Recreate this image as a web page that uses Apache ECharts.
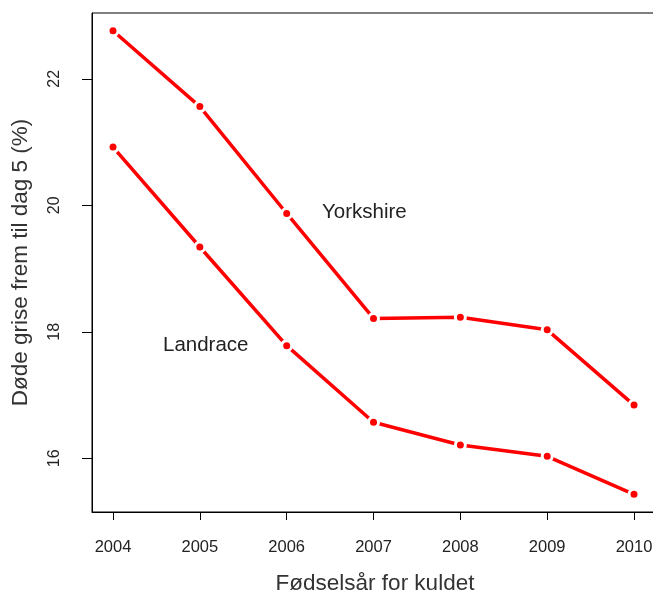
<!DOCTYPE html>
<html>
<head>
<meta charset="utf-8">
<script src="https://cdn.jsdelivr.net/npm/echarts@6/dist/echarts.min.js"></script>
<style>
  html, body { margin: 0; padding: 0; background: #fff; }
  #chart { width: 653px; height: 596px; }
</style>
</head>
<body>
<div id="chart"></div>
<script>
// data
var years = [2004, 2005, 2006, 2007, 2008, 2009, 2010];
var yorkshire = [22.76, 21.56, 19.87, 18.21, 18.23, 18.03, 16.84];
var landrace = [20.92, 19.34, 17.78, 16.57, 16.21, 16.03, 15.43];
var yTicks = [16, 18, 20, 22];

function pairs(vals) {
  return years.map(function (y, i) { return [y, vals[i]]; });
}

var chart = echarts.init(document.getElementById('chart'));
var font = 'Liberation Sans, Arial, sans-serif';

function lineSeries(name, vals) {
  return {
    name: name,
    type: 'line',
    data: pairs(vals),
    symbol: 'circle',
    symbolSize: 10,
    showAllSymbol: true,
    lineStyle: { color: '#ff0000', width: 3.5 },
    itemStyle: { color: '#ff0000', borderColor: '#ffffff', borderWidth: 3 },
    z: 3
  };
}

chart.setOption({
  animation: false,
  grid: {
    left: 92, right: -5, top: 13, bottom: 84,
    outerBoundsMode: 'none',
    containLabel: false,
    show: true, borderColor: '#000', borderWidth: 1
  },
  xAxis: {
    type: 'value',
    min: 2003.758, max: 2010.276,
    splitLine: { show: false },
    axisLine: { show: true, lineStyle: { color: '#000' } },
    axisTick: { show: true, length: 8, customValues: years, lineStyle: { color: '#000' } },
    axisLabel: {
      customValues: years, margin: 27, color: '#222', fontSize: 16.5, fontFamily: font,
      formatter: function (v) { return String(v); }
    },
    name: 'Fødselsår for kuldet',
    nameLocation: 'middle',
    nameGap: 60,
    nameTextStyle: { fontSize: 22.5, color: '#333', fontFamily: font }
  },
  yAxis: {
    type: 'value',
    min: 15.15, max: 23.04,
    splitLine: { show: false },
    axisLine: { show: true, lineStyle: { color: '#000' } },
    axisTick: { show: true, length: 10, customValues: yTicks, lineStyle: { color: '#000' } },
    axisLabel: { customValues: yTicks, rotate: 90, margin: 29, color: '#222', fontSize: 16, fontFamily: font },
    name: 'Døde grise frem til dag 5 (%)',
    nameLocation: 'middle',
    nameGap: 60,
    nameRotate: 90,
    nameTextStyle: { fontSize: 22.5, color: '#333', fontFamily: font }
  },
  series: [
    lineSeries('Yorkshire', yorkshire),
    lineSeries('Landrace', landrace)
  ],
  graphic: [
    { type: 'text', left: 322, top: 202, style: { text: 'Yorkshire', fontSize: 20.5, fill: '#222', fontFamily: font } },
    { type: 'text', left: 163, top: 335, style: { text: 'Landrace', fontSize: 20.5, fill: '#222', fontFamily: font } }
  ]
});
</script>
</body>
</html>
